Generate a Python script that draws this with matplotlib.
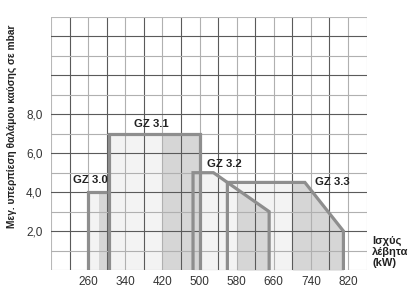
import numpy as np
import matplotlib
matplotlib.use("Agg")
import matplotlib.pyplot as plt

plt.rcParams['font.family'] = ['Liberation Sans', 'DejaVu Sans']

# Καμπύλες λειτουργίας καυστήρων (ισχύς kW, υπερπίεση mbar)
gz30_x = [260, 260, 300]
gz30_y = [0, 4.0, 4.0]
gz31_x = [305, 305, 500, 500]
gz31_y = [0, 7.0, 7.0, 0]
gz32_x = [486, 486, 530, 650, 650]
gz32_y = [0, 5.0, 5.0, 3.0, 0]
gz33_x = [560, 560, 727, 810, 810]
gz33_y = [0, 4.5, 4.5, 2.0, 0]

names = ['GZ 3.0', 'GZ 3.1', 'GZ 3.2', 'GZ 3.3']
# σκούρα περιοχή (αρχή, τέλος) σε kW
dark_ranges = [(284, 300), (420, 500), (580, 650), (700, 810)]
light_ranges = [(260, 300), (305, 420), (486, 650), (560, 810)]
label_x = [264, 397, 553, 786]
label_y = [4.6, 7.5, 5.45, 4.5]

x_ticks = [260, 340, 420, 500, 580, 660, 740, 820]
y_ticks = [2, 4, 6, 8]

curves = [(gz30_x, gz30_y), (gz31_x, gz31_y), (gz32_x, gz32_y), (gz33_x, gz33_y)]

fig = plt.figure(figsize=(4.19, 2.93), dpi=100)
ax = fig.add_axes([0.1217, 0.0785, 0.7533, 0.8635])
ax.set_xlim(180, 860)
ax.set_ylim(0, 13)

def top_of(cx, cy, xs):
    # ύψος της καμπύλης (χωρίς τις κάθετες πλευρές)
    px = cx[1:-1] if cy[-1] == 0 else cx[1:]
    py = cy[1:-1] if cy[-1] == 0 else cy[1:]
    return np.interp(xs, px, py)

# γεμίσματα
for (cx, cy), (a, b) in zip(curves, light_ranges):
    xs = np.linspace(a, b, 200)
    ax.fill_between(xs, 0, top_of(cx, cy, xs), color='#f3f3f3', lw=0, zorder=1)
for (cx, cy), (a, b) in zip(curves, dark_ranges):
    xs = np.linspace(a, b, 200)
    ax.fill_between(xs, 0, top_of(cx, cy, xs), color='#d6d6d6', lw=0, zorder=2)

# πλέγμα
for gx in range(180, 861, 40):
    edge = gx in (180, 860)
    col = '#5a5a5a' if (gx - 220) % 80 == 0 else '#b0b0b0'
    ax.axvline(gx, color='#b8b8b8' if edge else col, lw=0.8, zorder=3)
for gy in range(0, 14):
    edge = gy in (0, 13)
    col = '#5a5a5a' if gy % 2 == 0 else '#b0b0b0'
    ax.axhline(gy, color='#b8b8b8' if edge else col, lw=0.8, zorder=3)

# περιγράμματα
for cx, cy in curves:
    ax.plot(cx, cy, color='#8e8e8e', lw=2.3, solid_joinstyle='miter',
            solid_capstyle='butt', zorder=4)

for n, lx, ly in zip(names, label_x, label_y):
    ax.text(lx, ly, n, ha='center', va='center', fontsize=8.2,
            fontweight='bold', color='#222222', zorder=5)

for s in ax.spines.values():
    s.set_visible(False)
ax.set_xticks(x_ticks)
ax.set_xticklabels([str(v) for v in x_ticks])
ax.set_yticks(y_ticks)
ax.set_yticklabels([f"{v:.1f}".replace('.', ',') for v in y_ticks])
ax.tick_params(length=0, labelsize=8.5, labelcolor='#333333')
ax.tick_params(axis='x', pad=4)
ax.tick_params(axis='y', pad=6)

fig.text(12 / 419, 1 - 126.5 / 293, 'Μεγ. υπερπίεση θαλάμου καύσης σε mbar',
         rotation=90, fontsize=7.3, fontweight='bold', color='#222222',
         ha='center', va='center')

fig.text(372 / 419, 1 - 252 / 293, 'Ισχύς\nλέβητα\n(kW)', fontsize=8,
         fontweight='bold', color='#222222', ha='left', va='center',
         linespacing=1.1)

fig.savefig('out.png', dpi=100)
